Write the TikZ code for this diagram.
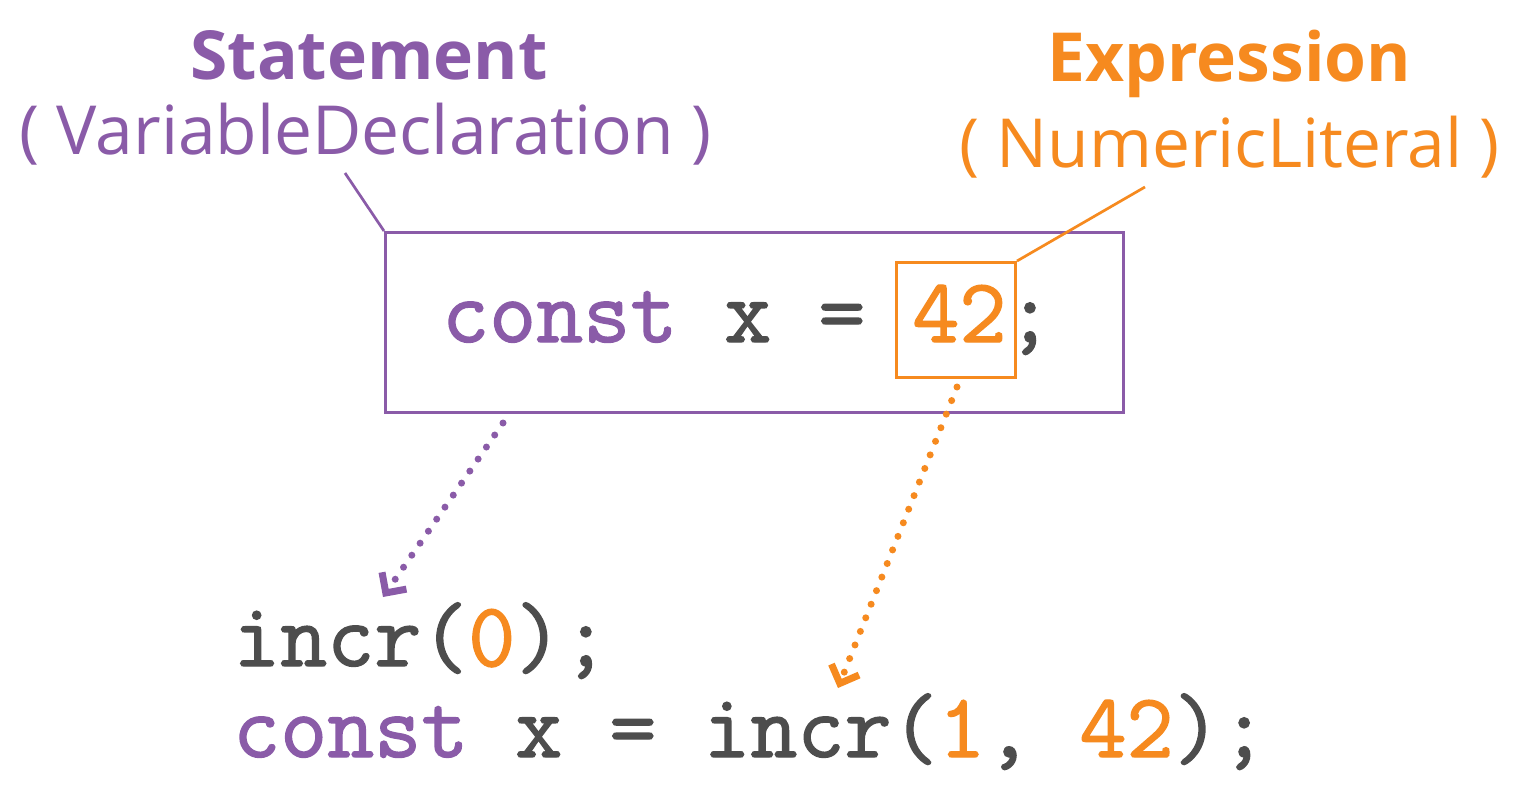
\documentclass[tikz,border=0pt]{standalone}
\usepackage{fontspec}
\setmainfont{Open Sans}
\newfontfamily\codefont[FakeBold=1.5]{Latin Modern Mono}
\usetikzlibrary{arrows.meta}
\definecolor{stpurple}{HTML}{8A5BA8}
\definecolor{exorange}{HTML}{F68A1F}
\definecolor{codegray}{HTML}{4D4D4D}
\tikzset{
  lbl/.style={inner sep=0pt, anchor=base, font=\fontsize{67.7}{80}\selectfont},
  lblbold/.style={inner sep=0pt, anchor=base, font=\bfseries\fontsize{67.7}{80}\selectfont},
  code/.style={inner sep=0pt, anchor=base west, text=codegray, font=\codefont\fontsize{91.3}{100}\selectfont},
  dotline/.style={line width=7pt, line cap=round, dash pattern=on 0pt off 14.6pt,
    -{Straight Barb[angle=90:21pt, line width=7pt, sharp]}},
  leader/.style={line width=2.7pt},
}
\begin{document}
\begin{tikzpicture}[x=1pt,y=-1pt]
\path[use as bounding box, fill=white] (0,0) rectangle (1518,794);
% labels
\node[lblbold, text=stpurple] (stmt) at (369,80) {Statement};
\node[lbl, text=stpurple] (vardecl) at (365.5,155) {( VariableDeclaration )};
\node[lblbold, text=exorange] (expr) at (1229.5,82) {Expression};
\node[lbl, text=exorange] (numlit) at (1229.5,168) {( NumericLiteral )};
% boxes
\node[draw=stpurple, line width=3pt, minimum width=738pt, minimum height=180pt, inner sep=0pt] (stmtbox) at (754.5,322.5) {};
\node[draw=exorange, line width=3pt, minimum width=119pt, minimum height=115pt, inner sep=0pt] (numbox) at (956,320) {};
% code
\node[code] (line1) at (442,342) {\textcolor{stpurple}{const} x = \textcolor{exorange}{42};};
\node[code] (line2) at (233,666) {incr(\textcolor{exorange}{0});};
\node[code] (line3) at (233,757) {\textcolor{stpurple}{const} x = incr(\textcolor{exorange}{1}, \textcolor{exorange}{42});};
% leaders
\coordinate (pleader) at (345,173);
\coordinate (oleader) at (1145,187);
\draw[leader, stpurple] (pleader) -- (stmtbox.north west);
\draw[leader, exorange] (oleader) -- (numbox.north east);
% dotted arrows
\coordinate (pstart) at (503,423);
\coordinate (pend) at (383,597);
\coordinate (ostart) at (957,387);
\coordinate (oend) at (838,688);
\draw[dotline, stpurple] (pstart) -- (pend);
\draw[dotline, exorange] (ostart) -- (oend);
\end{tikzpicture}
\end{document}
